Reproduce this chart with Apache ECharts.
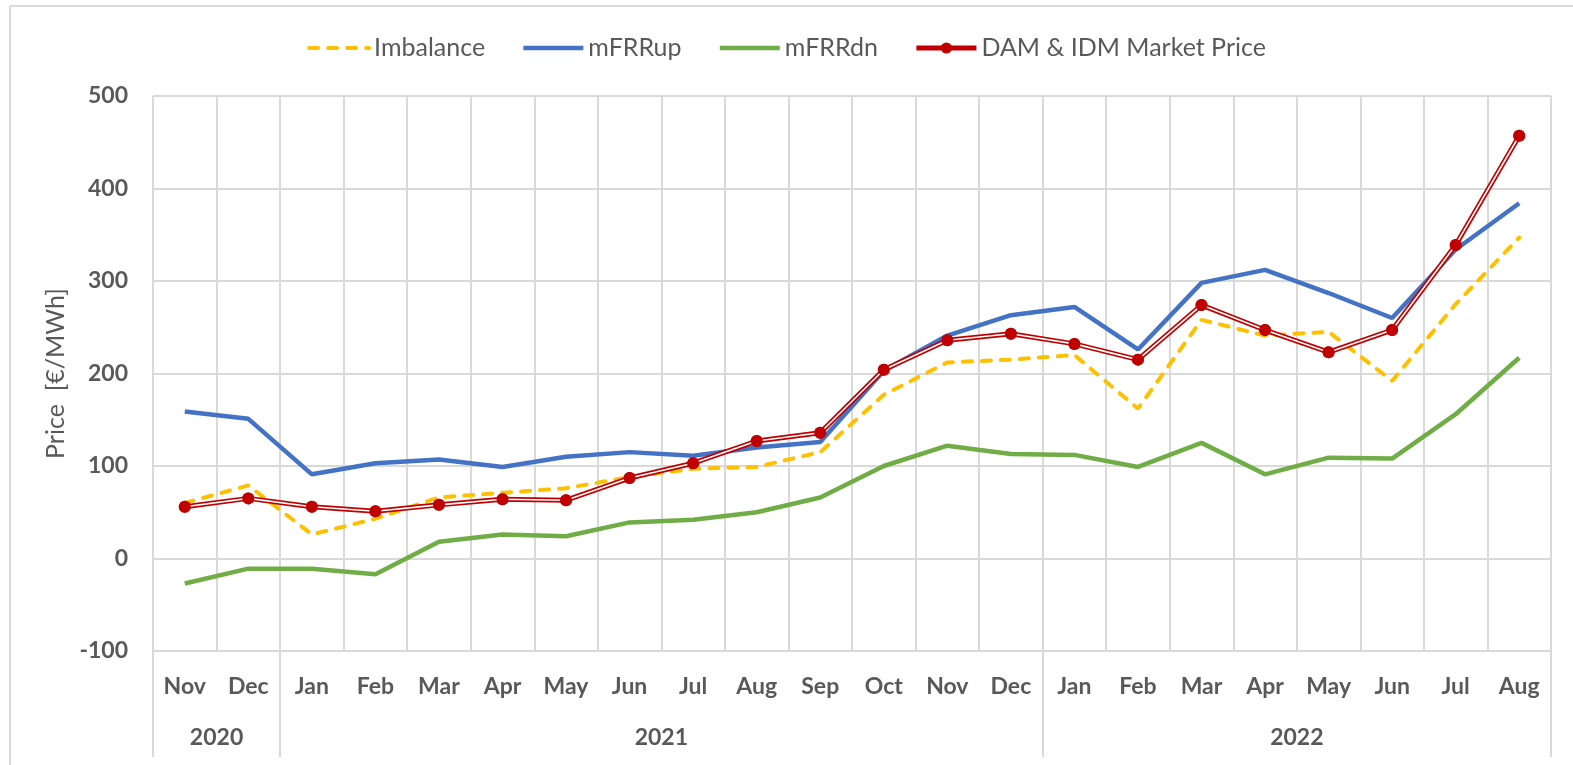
<!DOCTYPE html>
<html>
<head>
<meta charset="utf-8">
<script src="https://cdn.jsdelivr.net/npm/echarts@6/dist/echarts.min.js"></script>
<style>
html,body{margin:0;padding:0;background:#fff;}
#chart{width:1573px;height:765px;}
</style>
</head>
<body>
<div id="chart"></div>
<script>
const months = ['Nov','Dec','Jan','Feb','Mar','Apr','May','Jun','Jul','Aug','Sep','Oct','Nov','Dec','Jan','Feb','Mar','Apr','May','Jun','Jul','Aug'];
const years = ['2020','2021','2022'];
const yearCounts = [2, 12, 8];
const imbalance = [60, 79, 26, 43, 66, 71, 76, 88, 97, 99, 115, 177, 212, 215, 220, 162, 258, 241, 245, 192, 275, 347];
const mFRRup = [159, 151, 91, 103, 107, 99, 110, 115, 111, 120, 126, 203, 241, 263, 272, 226, 298, 312, 287, 260, 334, 384];
const mFRRdn = [-27, -11, -11, -17, 18, 26, 24, 39, 42, 50, 66, 100, 122, 113, 112, 99, 125, 91, 109, 108, 156, 217];
const damIdm = [56, 65, 56, 51, 58, 64, 63, 87, 103, 127, 136, 204, 236, 243, 232, 215, 274, 247, 223, 247, 339, 457];
const yTicks = {min: -100, max: 500, interval: 100};

const FONT = 'Lato, "Open Sans", sans-serif';
const TXT = '#595959';
const GRID = '#D9D9D9';

// year boundaries and centers from counts
const yearBounds = [0];
const yearCenters = [];
yearCounts.forEach(function (c) {
  const start = yearBounds[yearBounds.length - 1];
  yearCenters.push(start + c / 2);
  yearBounds.push(start + c);
});

const chart = echarts.init(document.getElementById('chart'));
chart.setOption({
  animation: false,
  backgroundColor: '#fff',
  textStyle: {fontFamily: FONT},
  graphic: [
    {type: 'line', shape: {x1: 10, y1: 6, x2: 1573, y2: 6}, style: {stroke: GRID, lineWidth: 2}, silent: true},
    {type: 'line', shape: {x1: 10, y1: 6, x2: 10, y2: 765}, style: {stroke: GRID, lineWidth: 2}, silent: true}
  ],
  legend: {
    top: 28,
    left: 'center',
    itemWidth: 60,
    itemHeight: 14,
    itemGap: 36,
    data: [
      {name: 'Imbalance', itemStyle: {opacity: 0}, lineStyle: {width: 4}},
      {name: 'mFRRup', itemStyle: {opacity: 0}, lineStyle: {width: 4.5}},
      {name: 'mFRRdn', itemStyle: {opacity: 0}, lineStyle: {width: 4.5}},
      {name: 'DAM & IDM Market Price', lineStyle: {width: 5}}
    ],
    textStyle: {fontFamily: FONT, fontSize: 25, color: TXT, lineHeight: 30}
  },
  grid: {left: 153, right: 22, top: 96, bottom: 114, containLabel: false},
  xAxis: [
    {
      type: 'category',
      data: months,
      boundaryGap: true,
      axisLine: {show: true, lineStyle: {color: GRID, width: 2}},
      axisTick: {show: false},
      splitLine: {show: true, interval: 0, lineStyle: {color: GRID, width: 2}},
      axisLabel: {interval: 0, margin: 24, fontFamily: FONT, fontSize: 23, fontWeight: 'bold', color: TXT}
    },
    {
      type: 'value',
      position: 'bottom',
      min: 0,
      max: yearBounds[yearBounds.length - 1],
      axisLine: {show: false},
      splitLine: {show: false},
      axisTick: {show: true, customValues: yearBounds, length: 106, inside: false, lineStyle: {color: GRID, width: 2}},
      axisLabel: {
        customValues: yearCenters,
        margin: 75,
        fontFamily: FONT, fontSize: 23, fontWeight: 'bold', color: TXT,
        formatter: function (v) {
          for (let i = 0; i < yearCenters.length; i++) {
            if (Math.abs(yearCenters[i] - v) < 1e-6) return years[i];
          }
          return '';
        }
      }
    }
  ],
  yAxis: {
    type: 'value',
    min: yTicks.min,
    max: yTicks.max,
    interval: yTicks.interval,
    name: 'Price  [€/MWh]',
    nameLocation: 'middle',
    nameGap: 83,
    nameTextStyle: {fontFamily: FONT, fontSize: 25, color: TXT},
    axisLine: {show: false},
    axisTick: {show: false},
    splitLine: {show: true, lineStyle: {color: GRID, width: 2}},
    axisLabel: {margin: 25, fontFamily: FONT, fontSize: 23, fontWeight: 'bold', color: TXT}
  },
  series: [
    {
      name: 'Imbalance', type: 'line', data: imbalance, xAxisIndex: 0,
      symbol: 'none', z: 2,
      itemStyle: {color: '#FFC000'},
      lineStyle: {color: '#FFC000', width: 4, type: [9, 10], cap: 'round'}
    },
    {
      name: 'mFRRup', type: 'line', data: mFRRup, xAxisIndex: 0,
      symbol: 'none', z: 2,
      itemStyle: {color: '#4472C4'},
      lineStyle: {color: '#4472C4', width: 4.5}
    },
    {
      name: 'mFRRdn', type: 'line', data: mFRRdn, xAxisIndex: 0,
      symbol: 'none', z: 2,
      itemStyle: {color: '#70AD47'},
      lineStyle: {color: '#70AD47', width: 4.5}
    },
    {
      name: 'DAM & IDM Market Price', type: 'line', data: damIdm, xAxisIndex: 0,
      symbol: 'circle', symbolSize: 12, showSymbol: true, z: 3,
      itemStyle: {color: '#C00000'},
      lineStyle: {color: '#C00000', width: 5}
    },
    {
      name: 'dam-inner', type: 'line', data: damIdm, xAxisIndex: 0,
      symbol: 'none', z: 4, silent: true,
      lineStyle: {color: '#ffffff', width: 1.6}
    },
    {
      name: 'dam-markers', type: 'line', data: damIdm, xAxisIndex: 0,
      symbol: 'circle', symbolSize: 12, showSymbol: true, z: 5, silent: true,
      itemStyle: {color: '#C00000'},
      lineStyle: {width: 0, opacity: 0}
    }
  ]
});
</script>
</body>
</html>
